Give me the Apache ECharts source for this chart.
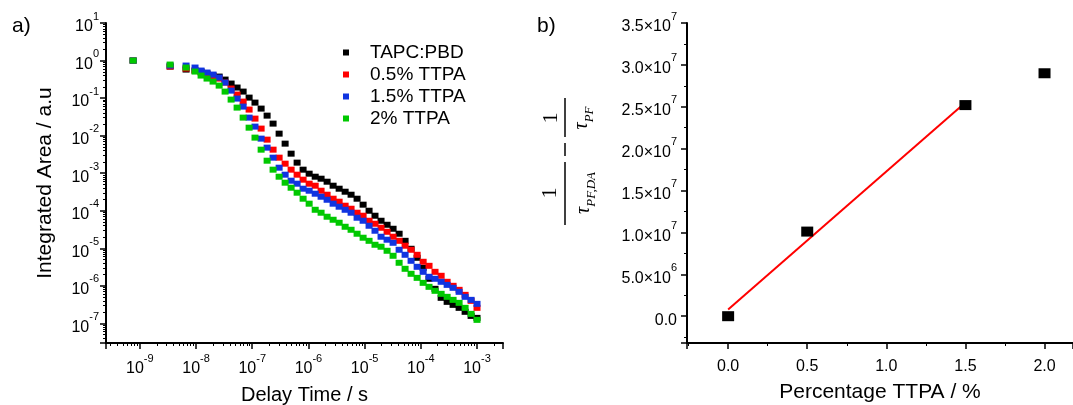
<!DOCTYPE html>
<html><head><meta charset="utf-8">
<script src="https://cdn.jsdelivr.net/npm/echarts@6/dist/echarts.min.js"></script>
<style>html,body{margin:0;padding:0;background:#fff}#c{width:1073px;height:405px}</style>
</head><body><div id="c"></div>
<script>
// ---- Panel a) data: delay time (s) and integrated area (a.u.) ----
const delayTime = [7.6e-10, 3.46e-9, 6.65e-9, 9.6e-9, 1.23e-8, 1.57e-8, 2.01e-8, 2.58e-8, 3.29e-8, 4.21e-8,
  5.38e-8, 6.89e-8, 8.8e-8, 1.12e-7, 1.44e-7, 1.84e-7, 2.35e-7, 3.01e-7, 3.85e-7, 4.92e-7,
  6.29e-7, 8.04e-7, 1.03e-6, 1.32e-6, 1.68e-6, 2.15e-6, 2.75e-6, 3.52e-6, 4.5e-6, 5.74e-6,
  7.34e-6, 9.4e-6, 1.2e-5, 1.53e-5, 1.96e-5, 2.51e-5, 3.21e-5, 4.11e-5, 5.25e-5, 6.71e-5,
  8.6e-5, 1.1e-4, 1.4e-4, 1.79e-4, 2.3e-4, 2.94e-4, 3.75e-4, 4.8e-4, 6.14e-4, 7.85e-4, 1.0e-3];
const tapcPbd = [1, 0.692, 0.575, 0.541, 0.509, 0.450, 0.398, 0.374, 0.311, 0.244,
  0.191, 0.149, 0.103, 0.0758, 0.0525, 0.0341, 0.0209, 0.0113, 0.00612, 0.00331,
  0.00191, 0.00124, 0.00097, 0.000806, 0.000713, 0.000593, 0.000464, 0.000386, 0.000321, 0.000267,
  0.000209, 0.000145, 0.0001, 7.36e-5, 5.41e-5, 4.23e-5, 3.31e-5, 2.44e-5, 1.58e-5, 9.7e-6,
  5.58e-6, 3.02e-6, 1.54e-6, 8.32e-7, 4.79e-7, 3.74e-7, 3.11e-7, 2.59e-7, 2.03e-7, 1.58e-7, 1.4e-7];
const ttpa05 = [1, 0.692, 0.612, 0.541, 0.479, 0.423, 0.374, 0.331, 0.259, 0.179,
  0.124, 0.0806, 0.0494, 0.0284, 0.0154, 0.00782, 0.00423, 0.00259, 0.00179, 0.00124,
  0.000912, 0.000671, 0.000525, 0.000464, 0.000341, 0.000267, 0.000209, 0.000174, 0.000136, 0.000113,
  8.85e-5, 7.36e-5, 5.41e-5, 4.5e-5, 3.52e-5, 2.75e-5, 2.03e-5, 1.58e-5, 1.17e-5, 9.12e-6,
  6.71e-6, 4.37e-6, 3.41e-6, 2.36e-6, 1.85e-6, 1.28e-6, 1.0e-6, 7.82e-7, 5.75e-7, 3.98e-7, 2.59e-7];
const ttpa15 = [1, 0.735, 0.735, 0.651, 0.541, 0.479, 0.423, 0.352, 0.259, 0.158,
  0.097, 0.0593, 0.0302, 0.0174, 0.00832, 0.00479, 0.00259, 0.0014, 0.000912, 0.000631,
  0.000525, 0.000386, 0.000341, 0.000284, 0.000236, 0.000196, 0.000154, 0.000128, 0.000106, 8.85e-5,
  6.51e-5, 5.41e-5, 3.98e-5, 2.93e-5, 2.03e-5, 1.69e-5, 1.4e-5, 9.12e-6, 6.71e-6, 4.64e-6,
  3.21e-6, 2.36e-6, 1.74e-6, 1.54e-6, 1.28e-6, 1.06e-6, 8.85e-7, 6.92e-7, 5.09e-7, 4.23e-7, 3.31e-7];
const ttpa2 = [1, 0.782, 0.651, 0.509, 0.398, 0.331, 0.275, 0.215, 0.149, 0.0912,
  0.0558, 0.0302, 0.0163, 0.00885, 0.00423, 0.00215, 0.00124, 0.000806, 0.000558, 0.00041,
  0.000302, 0.000209, 0.000154, 0.000106, 8.85e-5, 6.92e-5, 5.75e-5, 4.79e-5, 3.74e-5, 3.11e-5,
  2.44e-5, 1.91e-5, 1.58e-5, 1.24e-5, 1.1e-5, 8.58e-6, 6.31e-6, 4.11e-6, 2.84e-6, 2.09e-6,
  1.63e-6, 1.2e-6, 9.4e-7, 7.36e-7, 6.12e-7, 5.09e-7, 4.23e-7, 3.52e-7, 2.59e-7, 1.79e-7, 1.24e-7];
const seriesNames = ['TAPC:PBD', '0.5% TTPA', '1.5% TTPA', '2% TTPA'];

// ---- Panel b) data ----
const percentTTPA = [0, 0.5, 1.5, 2.0];
const rateDiff = [0, 1.01e7, 2.52e7, 2.90e7];
const fitPercent = [0, 1.5];
const fitRate = [8e5, 2.55e7];

const FONT = '"Liberation Sans", Arial, sans-serif';
const SERIF = '"Liberation Serif", "DejaVu Serif", serif';
const zip = (a, b) => a.map((v, i) => [v, b[i]]);
const richSup = {
  b: {fontSize: 16, lineHeight: 24, verticalAlign: 'bottom', color: '#000', fontFamily: FONT},
  s: {fontSize: 11, lineHeight: 12, verticalAlign: 'top', color: '#000', fontFamily: FONT}
};
function logFmt(v) {
  const e = Math.log10(v), r = Math.round(e);
  if (Math.abs(e - r) > 1e-6) return '';
  return '{b|10}{s|' + r + '}';
}
function sciFmt(v) {
  if (Math.abs(v) < 1) return '{b|0.0}';
  const e = Math.floor(Math.log10(Math.abs(v)) + 1e-9);
  const m = v / Math.pow(10, e);
  return '{b|' + m.toFixed(1) + '×10}{s|' + e + '}';
}
const axisLineStyle = {show: true, onZero: false, lineStyle: {color: '#000', width: 2}};
const tickStyle = {show: true, length: 6, lineStyle: {color: '#000', width: 1.5}};
const minorStyle = (n) => ({show: true, splitNumber: n, length: 3, lineStyle: {color: '#000', width: 1}});
const nameStyle = (s) => ({fontSize: s, color: '#000', fontFamily: FONT});
const colors = ['#000000', '#ff0000', '#1034e0', '#00c800'];
const valuesList = [tapcPbd, ttpa05, ttpa15, ttpa2];
const tauRich = {
  t: {fontSize: 20, fontStyle: 'italic', fontFamily: SERIF, lineHeight: 24, verticalAlign: 'top', fill: '#000'},
  s: {fontSize: 13, fontStyle: 'italic', fontFamily: SERIF, lineHeight: 13, verticalAlign: 'bottom', fill: '#000'}
};

const chart = echarts.init(document.getElementById('c'), null, {renderer: 'canvas'});
chart.setOption({
  animation: false,
  backgroundColor: '#fff',
  textStyle: {fontFamily: FONT},
  grid: [
    {left: 106, top: 23, width: 397, height: 320, containLabel: false, outerBoundsMode: 'none'},
    {left: 687, top: 23, width: 386, height: 320, containLabel: false, outerBoundsMode: 'none'}
  ],
  xAxis: [
    {type: 'log', logBase: 10, gridIndex: 0, min: 2.5e-10, max: 2.9e-3,
     axisLine: axisLineStyle, axisTick: tickStyle, minorTick: minorStyle(9), splitLine: {show: false},
     axisLabel: {formatter: logFmt, rich: richSup, margin: 10, color: '#000'},
     name: 'Delay Time / s', nameLocation: 'middle', nameGap: 42, nameTextStyle: nameStyle(20)},
    {type: 'value', gridIndex: 1, min: -0.26, max: 2.18, splitNumber: 5,
     axisLine: axisLineStyle, axisTick: tickStyle, minorTick: minorStyle(2), splitLine: {show: false},
     axisLabel: {formatter: (v) => '{b|' + v.toFixed(1) + '}', rich: richSup, showMinLabel: false, showMaxLabel: false, margin: 8, color: '#000'},
     name: 'Percentage TTPA / %', nameLocation: 'middle', nameGap: 39, nameTextStyle: nameStyle(21)}
  ],
  yAxis: [
    {type: 'log', logBase: 10, gridIndex: 0, min: 3e-8, max: 10,
     axisLine: axisLineStyle, axisTick: tickStyle, minorTick: minorStyle(9), splitLine: {show: false},
     axisLabel: {formatter: logFmt, rich: richSup, margin: 7, color: '#000'},
     name: 'Integrated Area / a.u', nameLocation: 'middle', nameGap: 50, nameTextStyle: nameStyle(21)},
    {type: 'value', gridIndex: 1, min: -3.2e6, max: 3.5e7, splitNumber: 8,
     axisLine: axisLineStyle, axisTick: tickStyle, minorTick: minorStyle(2), splitLine: {show: false},
     axisLabel: {formatter: sciFmt, rich: richSup, showMinLabel: false, margin: 10, color: '#000'}}
  ],
  legend: {
    data: seriesNames, orient: 'vertical', left: 343, top: 43, padding: 0,
    itemWidth: 6, itemHeight: 6, itemGap: 3, icon: 'rect',
    textStyle: {fontSize: 19, color: '#000', fontFamily: FONT, padding: [0, 0, 0, 16]}
  },
  series: [
    ...valuesList.map((vals, i) => ({
      name: seriesNames[i], type: 'scatter', xAxisIndex: 0, yAxisIndex: 0,
      symbol: 'rect', symbolSize: [7, 6], itemStyle: {color: colors[i], opacity: 1},
      data: zip(delayTime, vals), z: 2 + i
    })),
    {type: 'line', xAxisIndex: 1, yAxisIndex: 1, data: zip(fitPercent, fitRate),
     showSymbol: false, symbol: 'none', lineStyle: {color: '#ff0000', width: 2}, z: 2},
    {type: 'scatter', xAxisIndex: 1, yAxisIndex: 1, data: zip(percentTTPA, rateDiff),
     symbol: 'rect', symbolSize: [12, 10], itemStyle: {color: '#000', opacity: 1}, z: 3}
  ],
  graphic: [
    {type: 'text', left: 12, top: 16, style: {text: 'a)', fontSize: 21, fontFamily: FONT, fill: '#000'}},
    {type: 'text', left: 537, top: 16, style: {text: 'b)', fontSize: 21, fontFamily: FONT, fill: '#000'}},
    {type: 'text', x: 551, y: 118, rotation: Math.PI / 2,
     style: {text: '1', fontSize: 22, fontFamily: SERIF, fill: '#000', align: 'center', verticalAlign: 'middle'}},
    {type: 'text', x: 550, y: 193, rotation: Math.PI / 2,
     style: {text: '1', fontSize: 22, fontFamily: SERIF, fill: '#000', align: 'center', verticalAlign: 'middle'}},
    {type: 'line', shape: {x1: 565, y1: 98, x2: 565, y2: 137}, style: {stroke: '#000', lineWidth: 1.5}},
    {type: 'line', shape: {x1: 565, y1: 143, x2: 565, y2: 156}, style: {stroke: '#000', lineWidth: 1.5}},
    {type: 'line', shape: {x1: 565, y1: 162, x2: 565, y2: 225}, style: {stroke: '#000', lineWidth: 1.5}},
    {type: 'text', x: 584, y: 118, rotation: Math.PI / 2,
     style: {text: '{t|τ}{s|PF}', align: 'center', verticalAlign: 'middle', rich: tauRich}},
    {type: 'text', x: 586, y: 193, rotation: Math.PI / 2,
     style: {text: '{t|τ}{s|PF,DA}', align: 'center', verticalAlign: 'middle', rich: tauRich}}
  ]
});
</script></body></html>
